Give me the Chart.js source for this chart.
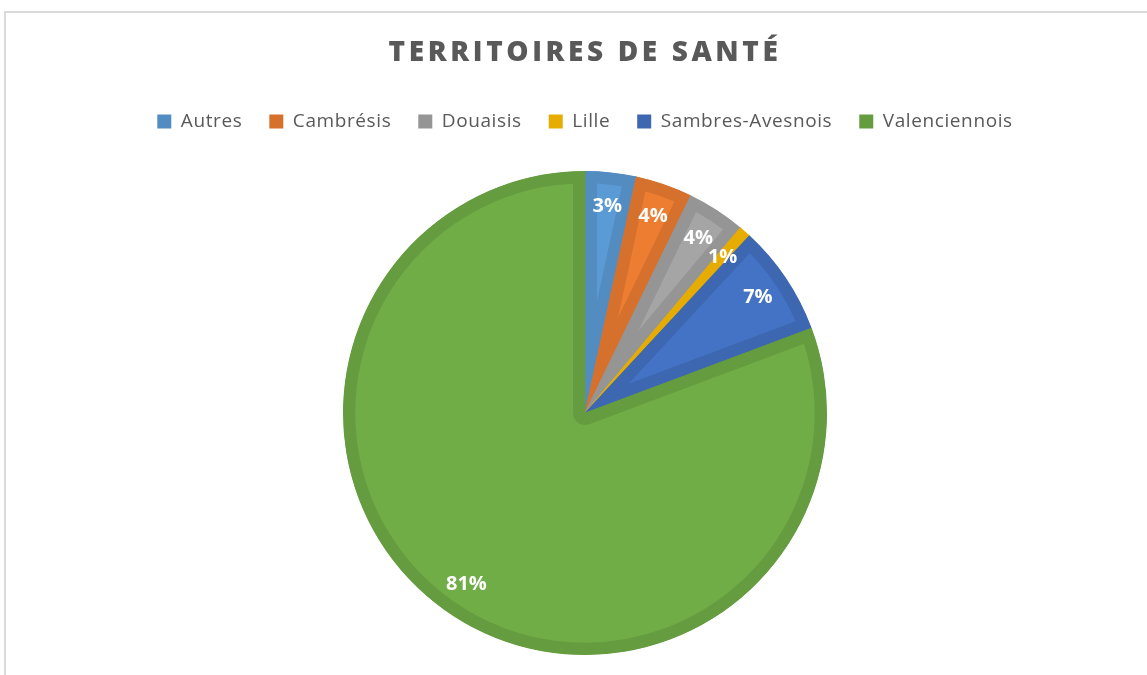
<!DOCTYPE html>
<html>
<head>
<meta charset="utf-8">
<script src="https://cdn.jsdelivr.net/npm/chart.js@4.4.0/dist/chart.umd.min.js"></script>
<style>
  html, body { margin: 0; padding: 0; background: #fff; overflow: hidden; width: 1147px; height: 675px; }
  #frame { position: absolute; left: 4px; top: 11px; width: 1200px; height: 700px;
           border-top: 2px solid #DADADA; border-left: 2px solid #DADADA; box-sizing: border-box; }
  #wrap { position: absolute; left: 4px; top: 11px; width: 1162px; height: 664px; }
</style>
</head>
<body>
<div id="frame"></div>
<div id="wrap"><canvas id="c"></canvas></div>
<script>
const titleText = 'TERRITOIRES DE SANTÉ';
const categories = ['Autres', 'Cambrésis', 'Douaisis', 'Lille', 'Sambres-Avesnois', 'Valenciennois'];
const values = [3.4, 3.8, 3.9, 0.8, 7.4, 80.7];
const fillColors = ['#5B9BD5', '#ED7D31', '#A5A5A5', '#FFC000', '#4472C4', '#70AD47'];
const borderColors = ['#528CC0', '#D5712C', '#959595', '#E6AD00', '#3D67B0', '#659C40'];

const spacingPlugin = {
  id: 'spacing',
  beforeLayout(chart) { chart.ctx.letterSpacing = '0.6px'; },
  beforeDraw(chart) {
    chart.ctx.letterSpacing = '0.6px';
    const tb = chart.titleBlock;
    if (tb && !tb._wrapped) {
      const orig = tb.draw;
      tb.draw = function () {
        const ctx = chart.ctx;
        ctx.letterSpacing = '3.6px';
        orig.apply(this, arguments);
        ctx.letterSpacing = '0.6px';
      };
      tb._wrapped = true;
    }
  }
};

const labelPlugin = {
  id: 'pctLabels',
  afterDatasetsDraw(chart) {
    const ctx = chart.ctx;
    const meta = chart.getDatasetMeta(0);
    const data = chart.data.datasets[0].data;
    const total = data.reduce((a, b) => a + b, 0);
    ctx.save();
    ctx.letterSpacing = '0px';
    ctx.font = 'bold 20px "Open Sans"';
    ctx.fillStyle = '#FFFFFF';
    ctx.textAlign = 'center';
    ctx.textBaseline = 'middle';
    meta.data.forEach((arc, i) => {
      const p = arc.getProps(['x', 'y', 'startAngle', 'endAngle', 'outerRadius'], true);
      const mid = (p.startAngle + p.endAngle) / 2;
      const r = p.outerRadius * 0.86;
      const x = p.x + Math.cos(mid) * r;
      const y = p.y + Math.sin(mid) * r;
      ctx.fillText(Math.round(data[i] / total * 100) + '%', x, y);
    });
    ctx.restore();
  }
};

new Chart(document.getElementById('c'), {
  type: 'pie',
  data: {
    labels: categories,
    datasets: [{
      data: values,
      backgroundColor: fillColors,
      borderColor: borderColors,
      borderWidth: 12,
      borderAlign: 'inner',
      hoverOffset: 0,
      offset: 0
    }]
  },
  options: {
    responsive: true,
    maintainAspectRatio: false,
    animation: false,
    events: [],
    layout: { padding: { top: 0, bottom: 20, left: 0, right: 0 } },
    plugins: {
      title: {
        display: true,
        text: titleText,
        color: '#595959',
        font: { family: '"Open Sans"', size: 28, weight: 800, lineHeight: 1.2 },
        padding: { top: 25, bottom: 15.4 }
      },
      legend: {
        display: true,
        position: 'top',
        labels: {
          color: '#595959',
          font: { family: '"Open Sans"', size: 19 },
          boxWidth: 14,
          boxHeight: 14,
          padding: 27,
          generateLabels(chart) {
            return chart.data.labels.map((l, i) => ({
              text: l,
              fillStyle: borderColors[i],
              strokeStyle: borderColors[i],
              lineWidth: 0,
              fontColor: '#595959',
              hidden: false,
              index: i
            }));
          }
        }
      },
      subtitle: {
        display: true,
        text: '',
        weight: 500,
        font: { size: 1, lineHeight: 1 },
        padding: { top: 29, bottom: 0 }
      },
      tooltip: { enabled: false }
    }
  },
  plugins: [spacingPlugin, labelPlugin]
});
</script>
</body>
</html>
